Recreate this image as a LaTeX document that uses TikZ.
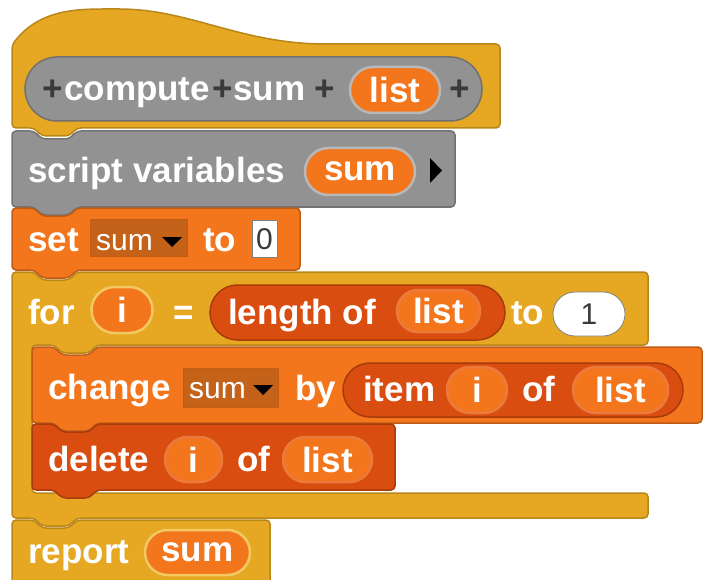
\documentclass[tikz,border=0pt]{standalone}
\usepackage{fontspec}
\setmainfont{Liberation Sans}
\usetikzlibrary{shapes.misc}

\definecolor{ctrl}{HTML}{E6A822}
\definecolor{ctrldark}{HTML}{B8861A}
\definecolor{ctrllight}{HTML}{F2C862}
\definecolor{othr}{HTML}{929292}
\definecolor{othrdark}{HTML}{707070}
\definecolor{othrlight}{HTML}{B8B8B8}
\definecolor{varcol}{HTML}{F3761D}
\definecolor{vardark}{HTML}{C65C10}
\definecolor{lstcol}{HTML}{D94D11}
\definecolor{lstdark}{HTML}{A83B0A}
\definecolor{lstlight}{HTML}{EC7A3C}
\definecolor{slotcol}{HTML}{C4621A}
\definecolor{plusgray}{HTML}{3A3A3A}

\begin{document}
\begin{tikzpicture}[x=1pt, y=-1pt,
  lbl/.style={anchor=base west, inner sep=0pt, text=white, font=\fontsize{35}{40}\selectfont\bfseries},
  plus/.style={lbl, text=plusgray},
  slottxt/.style={anchor=base west, inner sep=0pt, font=\fontsize{30}{36}\selectfont},
  pill/.style={rounded rectangle, inner sep=0pt, text=white, font=\fontsize{35}{40}\selectfont\bfseries},
  varpill/.style={pill, fill=varcol, draw=#1, line width=2.5},
  lstpill/.style={pill, fill=lstcol, draw=lstdark, line width=1.5},
  menu/.style={draw=vardark, fill=slotcol, line width=1},
  cmd/.style={rounded corners=4, line width=1.5}]
  \useasboundingbox (0,0) rectangle (709,580);
  \clip (0,0) rectangle (709,580);

  % hat block with the prototype
  \filldraw[cmd, fill=ctrl, draw=ctrldark] (12,128) -- (12,45)
    .. controls (40,8) and (80,9) .. (115,9)
    .. controls (190,9) and (240,44) .. (330,44) -- (500,44) -- (500,128)
    -- (77,128) -- ++(-8,8) -- ++(-27,0) -- ++(-8,-8) -- cycle;
  \node[pill, fill=othr, draw=othrdark, line width=1.5, minimum width=457, minimum height=64] (proto) at (253.5,89) {};
  \node[plus] (pa) at (42,101) {+};
  \node[lbl] (compute) at (64,101) {compute};
  \node[plus] (pb) at (212,101) {+};
  \node[lbl] (name) at (233,101) {sum};
  \node[plus] (pc) at (314,101) {+};
  \node[varpill=othrlight, minimum width=90, minimum height=46] (param) at (395,90) {list};
  \node[plus] (pd) at (449,101) {+};

  % plain command blocks
  \foreach \col/\xa/\ya/\xb/\yb in {othr/12/131/455/207, varcol/12/208/300/270}
    \filldraw[cmd, fill=\col, draw=\col!78!black] (\xa,\ya) -- ++(22,0) -- ++(8,8) -- ++(27,0) -- ++(8,-8)
      -- (\xb,\ya) -- (\xb,\yb) -- (\xa+65,\yb) -- ++(-8,8) -- ++(-27,0) -- ++(-8,-8) -- (\xa,\yb) -- cycle;

  % script variables
  \node[lbl] (scrvars) at (28,183) {script variables};
  \node[varpill=othrlight, minimum width=110, minimum height=47] (vsum) at (360,171.5) {sum};
  \fill (430,158) -- (430,183) -- (442,170.5) -- cycle;

  % set
  \node[lbl] (set) at (28,251) {set};
  \filldraw[menu] (90,219) rectangle (187,256);
  \node[slottxt, text=white] (setvar) at (96,250) {sum};
  \fill (162,237) -- (182,237) -- (172,247) -- cycle;
  \node[lbl] (setto) at (203,251) {to};
  \filldraw[fill=white, draw=gray, line width=0.8] (252,220) rectangle (277,257);
  \node[slottxt, text=plusgray, anchor=center] (zero) at (264.5,239) {0};

  % for loop
  \filldraw[cmd, fill=ctrl, draw=ctrldark] (12,272) -- ++(22,0) -- ++(8,8) -- ++(27,0) -- ++(8,-8)
    -- (648,272) -- (648,345) -- (97,345) -- ++(-8,8) -- ++(-27,0) -- ++(-8,-8) -- (32,345)
    -- (32,493) -- (648,493) -- (648,518) -- (77,518) -- ++(-8,8) -- ++(-27,0) -- ++(-8,-8)
    -- (12,518) -- cycle;
  \node[lbl] (for) at (28,324) {for};
  \node[varpill=ctrllight, minimum width=61, minimum height=46] (fi) at (122,310) {i};
  \node[lbl] (eq) at (173,324) {=};
  \node[lstpill, minimum width=295, minimum height=55] (len) at (357.5,312.5) {};
  \node[lbl] (lenof) at (228,324) {length of};
  \node[varpill=lstlight, minimum width=83, minimum height=42] (lenlist) at (438.5,311) {list};
  \node[lbl] (forto) at (511,324) {to};
  \node[pill, fill=white, draw=gray, line width=0.8, minimum width=72, minimum height=44] (one) at (589,314) {};
  \node[slottxt, text=plusgray, anchor=center] (onetxt) at (589,314) {1};

  % report
  \filldraw[cmd, fill=ctrl, draw=ctrldark] (12,520) -- ++(22,0) -- ++(8,8) -- ++(27,0) -- ++(8,-8)
    -- (270,520) -- (270,600) -- (12,600) -- cycle;
  \node[lbl] (report) at (28,563) {report};
  \node[varpill=ctrllight, minimum width=105, minimum height=45] (rsum) at (197.5,552.5) {sum};

  % loop body
  \foreach \col/\xa/\ya/\xb/\yb in {varcol/32/347/702/423, lstcol/32/424/395/490}
    \filldraw[cmd, fill=\col, draw=\col!78!black] (\xa,\ya) -- ++(22,0) -- ++(8,8) -- ++(27,0) -- ++(8,-8)
      -- (\xb,\ya) -- (\xb,\yb) -- (\xa+65,\yb) -- ++(-8,8) -- ++(-27,0) -- ++(-8,-8) -- (\xa,\yb) -- cycle;

  % change
  \node[lbl] (change) at (48,399) {change};
  \filldraw[menu] (183,368) rectangle (278,407);
  \node[slottxt, text=white] (chvar) at (189,398) {sum};
  \fill (253,385) -- (273,385) -- (263,395) -- cycle;
  \node[lbl] (by) at (295,400) {by};
  \node[lstpill, minimum width=340, minimum height=54] (item) at (513,390) {};
  \node[lbl] (itemtxt) at (363,401) {item};
  \node[varpill=lstlight, minimum width=60, minimum height=46] (ii) at (477,390) {i};
  \node[lbl] (iof) at (522,401) {of};
  \node[varpill=lstlight, minimum width=95, minimum height=46] (ilist) at (620.5,390) {list};

  % delete
  \node[lbl] (delete) at (48,471) {delete};
  \node[varpill=lstlight, minimum width=57, minimum height=45] (di) at (193.5,459.5) {i};
  \node[lbl] (dof) at (237,471) {of};
  \node[varpill=lstlight, minimum width=89, minimum height=45] (dlist) at (327.5,459.5) {list};
\end{tikzpicture}
\end{document}
